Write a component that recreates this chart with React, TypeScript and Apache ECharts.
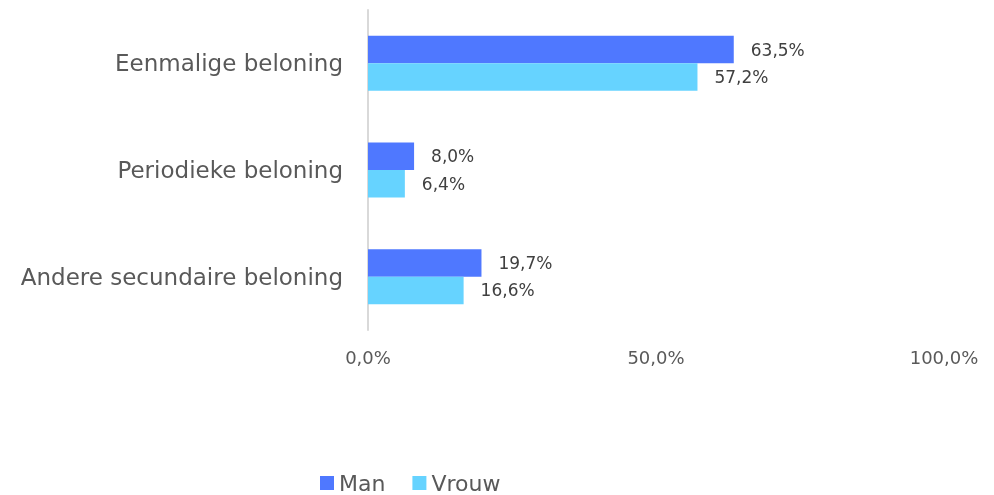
import React, { useEffect, useRef } from "react";
import * as echarts from "echarts";

const categories = ["Eenmalige beloning", "Periodieke beloning", "Andere secundaire beloning"];
const manValues = [63.5, 8.0, 19.7];
const vrouwValues = [57.2, 6.4, 16.6];
const seriesNames = ["Man", "Vrouw"];

const FONT = "'Century Gothic', 'URW Gothic', 'DejaVu Sans', sans-serif";
const fmt = (v: number) => v.toFixed(1).replace(".", ",") + "%";

export default function App() {
  const ref = useRef<HTMLDivElement>(null);
  useEffect(() => {
    if (!ref.current) return;
    const chart = echarts.init(ref.current, undefined, { renderer: "svg" });
    const label = {
      show: true,
      position: "right",
      distance: 17,
      color: "#404040",
      fontSize: 17,
      fontFamily: FONT,
      formatter: (p: any) => fmt(p.value),
    };
    chart.setOption({
      animation: false,
      textStyle: { fontFamily: FONT },
      grid: { left: 368, right: 50, top: 10, bottom: 165 },
      legend: {
        top: 472,
        left: 320,
        padding: 0,
        itemWidth: 14,
        itemHeight: 14,
        itemGap: 27,
        icon: "rect",
        textStyle: { color: "#595959", fontSize: 22, lineHeight: 22, fontFamily: FONT },
        data: seriesNames,
      },
      xAxis: {
        type: "value",
        min: 0,
        max: 100,
        interval: 50,
        axisLine: { show: false },
        axisTick: { show: false },
        splitLine: { show: false },
        axisLabel: {
          color: "#595959",
          fontSize: 18,
          fontFamily: FONT,
          margin: 18,
          formatter: (v: number) => fmt(v),
        },
      },
      yAxis: {
        type: "category",
        inverse: true,
        data: categories,
        axisLine: { show: true, lineStyle: { color: "#d9d9d9", width: 2 } },
        axisTick: { show: false },
        axisLabel: { color: "#595959", fontSize: 23, fontFamily: FONT, margin: 25 },
      },
      series: [
        {
          name: seriesNames[0],
          type: "bar",
          data: manValues,
          barWidth: 27.5,
          barGap: "0%",
          itemStyle: { color: "#4F78FF" },
          label,
        },
        {
          name: seriesNames[1],
          type: "bar",
          data: vrouwValues,
          barWidth: 27.5,
          barGap: "0%",
          itemStyle: { color: "#66D3FF" },
          label,
        },
      ],
    });
    return () => chart.dispose();
  }, []);
  return (
    <div
      ref={ref}
      style={{ position: "fixed", left: 0, top: 0, width: 994, height: 495 }}
    />
  );
}
